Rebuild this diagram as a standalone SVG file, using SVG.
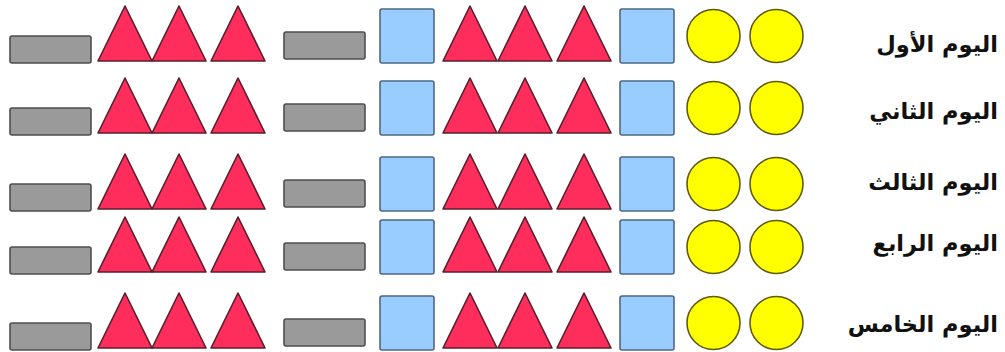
<svg xmlns="http://www.w3.org/2000/svg" xmlns:xlink="http://www.w3.org/1999/xlink" width="1005" height="352" viewBox="0 0 1005 352">
<style>
.bar{fill:#9a9a9a;stroke:#4f4f4f;stroke-width:1.6}
.tri{fill:#ff2d5c;stroke:#5a1e2c;stroke-width:1.6;stroke-linejoin:round}
.sq{fill:#99ccff;stroke:#4d6880;stroke-width:1.6}
.cir{fill:#ffff00;stroke:#5e5a10;stroke-width:1.6}
.lbl{font-family:"DejaVu Sans","Noto Sans",sans-serif;font-weight:bold;font-size:22.5px;fill:#111;text-anchor:end}
</style>
<defs>
<rect id="bar" class="bar" width="81" height="27" rx="2"/>
<polygon id="tri" class="tri" points="0,55 27,0 54,55"/>
<rect id="sq" class="sq" width="54" height="54" rx="2"/>
<circle id="cir" class="cir" r="26.5"/>
</defs>
<rect width="1005" height="352" fill="#ffffff"/>
<g id="connectors"/>
<g id="row1" transform="translate(0,9)">
<g id="r1-bar1"><use xlink:href="#bar" x="10" y="27"/></g>
<g id="r1-tri1"><use xlink:href="#tri" x="98" y="-3"/></g>
<g id="r1-tri2"><use xlink:href="#tri" x="152" y="-3"/></g>
<g id="r1-tri3"><use xlink:href="#tri" x="211" y="-3"/></g>
<g id="r1-bar2"><use xlink:href="#bar" x="284" y="23"/></g>
<g id="r1-sq1"><use xlink:href="#sq" x="380" y="0"/></g>
<g id="r1-tri4"><use xlink:href="#tri" x="443" y="-3"/></g>
<g id="r1-tri5"><use xlink:href="#tri" x="498" y="-3"/></g>
<g id="r1-tri6"><use xlink:href="#tri" x="557" y="-3"/></g>
<g id="r1-sq2"><use xlink:href="#sq" x="620" y="0"/></g>
<g id="r1-cir1"><use xlink:href="#cir" x="713.5" y="27"/></g>
<g id="r1-cir2"><use xlink:href="#cir" x="776.5" y="27"/></g>
</g>
<g id="row2" transform="translate(0,81)">
<g id="r2-bar1"><use xlink:href="#bar" x="10" y="27"/></g>
<g id="r2-tri1"><use xlink:href="#tri" x="98" y="-3"/></g>
<g id="r2-tri2"><use xlink:href="#tri" x="152" y="-3"/></g>
<g id="r2-tri3"><use xlink:href="#tri" x="211" y="-3"/></g>
<g id="r2-bar2"><use xlink:href="#bar" x="284" y="23"/></g>
<g id="r2-sq1"><use xlink:href="#sq" x="380" y="0"/></g>
<g id="r2-tri4"><use xlink:href="#tri" x="443" y="-3"/></g>
<g id="r2-tri5"><use xlink:href="#tri" x="498" y="-3"/></g>
<g id="r2-tri6"><use xlink:href="#tri" x="557" y="-3"/></g>
<g id="r2-sq2"><use xlink:href="#sq" x="620" y="0"/></g>
<g id="r2-cir1"><use xlink:href="#cir" x="713.5" y="27"/></g>
<g id="r2-cir2"><use xlink:href="#cir" x="776.5" y="27"/></g>
</g>
<g id="row3" transform="translate(0,157)">
<g id="r3-bar1"><use xlink:href="#bar" x="10" y="27"/></g>
<g id="r3-tri1"><use xlink:href="#tri" x="98" y="-3"/></g>
<g id="r3-tri2"><use xlink:href="#tri" x="152" y="-3"/></g>
<g id="r3-tri3"><use xlink:href="#tri" x="211" y="-3"/></g>
<g id="r3-bar2"><use xlink:href="#bar" x="284" y="23"/></g>
<g id="r3-sq1"><use xlink:href="#sq" x="380" y="0"/></g>
<g id="r3-tri4"><use xlink:href="#tri" x="443" y="-3"/></g>
<g id="r3-tri5"><use xlink:href="#tri" x="498" y="-3"/></g>
<g id="r3-tri6"><use xlink:href="#tri" x="557" y="-3"/></g>
<g id="r3-sq2"><use xlink:href="#sq" x="620" y="0"/></g>
<g id="r3-cir1"><use xlink:href="#cir" x="713.5" y="27"/></g>
<g id="r3-cir2"><use xlink:href="#cir" x="776.5" y="27"/></g>
</g>
<g id="row4" transform="translate(0,220)">
<g id="r4-bar1"><use xlink:href="#bar" x="10" y="27"/></g>
<g id="r4-tri1"><use xlink:href="#tri" x="98" y="-3"/></g>
<g id="r4-tri2"><use xlink:href="#tri" x="152" y="-3"/></g>
<g id="r4-tri3"><use xlink:href="#tri" x="211" y="-3"/></g>
<g id="r4-bar2"><use xlink:href="#bar" x="284" y="23"/></g>
<g id="r4-sq1"><use xlink:href="#sq" x="380" y="0"/></g>
<g id="r4-tri4"><use xlink:href="#tri" x="443" y="-3"/></g>
<g id="r4-tri5"><use xlink:href="#tri" x="498" y="-3"/></g>
<g id="r4-tri6"><use xlink:href="#tri" x="557" y="-3"/></g>
<g id="r4-sq2"><use xlink:href="#sq" x="620" y="0"/></g>
<g id="r4-cir1"><use xlink:href="#cir" x="713.5" y="27"/></g>
<g id="r4-cir2"><use xlink:href="#cir" x="776.5" y="27"/></g>
</g>
<g id="row5" transform="translate(0,296)">
<g id="r5-bar1"><use xlink:href="#bar" x="10" y="27"/></g>
<g id="r5-tri1"><use xlink:href="#tri" x="98" y="-3"/></g>
<g id="r5-tri2"><use xlink:href="#tri" x="152" y="-3"/></g>
<g id="r5-tri3"><use xlink:href="#tri" x="211" y="-3"/></g>
<g id="r5-bar2"><use xlink:href="#bar" x="284" y="23"/></g>
<g id="r5-sq1"><use xlink:href="#sq" x="380" y="0"/></g>
<g id="r5-tri4"><use xlink:href="#tri" x="443" y="-3"/></g>
<g id="r5-tri5"><use xlink:href="#tri" x="498" y="-3"/></g>
<g id="r5-tri6"><use xlink:href="#tri" x="557" y="-3"/></g>
<g id="r5-sq2"><use xlink:href="#sq" x="620" y="0"/></g>
<g id="r5-cir1"><use xlink:href="#cir" x="713.5" y="27"/></g>
<g id="r5-cir2"><use xlink:href="#cir" x="776.5" y="27"/></g>
</g>
<g id="labels">
<g id="label1"><text class="lbl" x="998" y="52">اليوم الأول</text></g>
<g id="label2"><text class="lbl" x="998" y="119">اليوم الثاني</text></g>
<g id="label3"><text class="lbl" x="998" y="190">اليوم الثالث</text></g>
<g id="label4"><text class="lbl" x="998" y="251">اليوم الرابع</text></g>
<g id="label5"><text class="lbl" x="998" y="332">اليوم الخامس</text></g>
</g>
</svg>
